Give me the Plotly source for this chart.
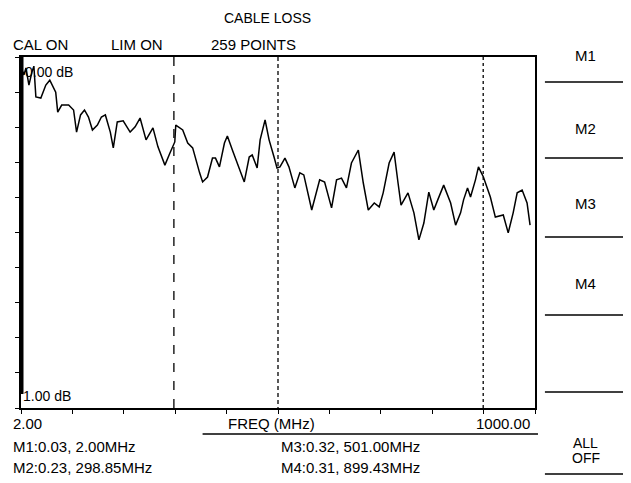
"""Cable loss sweep display."""
import plotly.graph_objects as go

# trace (MHz, dB)
freq_mhz = [2.0, 7.8, 11.6, 17.4, 23.2, 27.0, 30.9, 40.5, 50.2, 57.9, 69.4, 73.3, 81.0,
            94.5, 104.1, 109.9, 117.6, 125.3, 133.0, 140.7, 150.3, 158.1, 165.8, 175.4,
            181.2, 188.9, 200.4, 213.9, 223.6, 233.2, 244.8, 258.2, 267.9, 281.4, 291.0,
            300.6, 302.5, 316.0, 325.7, 335.3, 348.8, 354.6, 364.2, 373.8, 379.6, 387.3,
            397.0, 402.7, 412.4, 422.0, 435.5, 445.1, 450.9, 460.5, 466.3, 475.9, 483.7,
            493.3, 499.1, 504.8, 514.5, 522.2, 533.7, 543.4, 551.1, 566.5, 581.9, 591.5,
            605.0, 614.7, 624.3, 633.9, 643.6, 657.0, 666.6, 676.3, 687.9, 697.5, 705.2,
            716.8, 726.4, 734.1, 739.9, 753.4, 764.9, 774.6, 784.2, 793.8, 803.5, 811.2,
            822.7, 836.2, 845.9, 855.5, 861.3, 869.0, 874.8, 884.4, 890.2, 899.8, 913.3,
            923.0, 938.4, 948.0, 957.6, 965.4, 975.0, 984.6, 990.4]
loss_db = [0.03, 0.051, 0.031, 0.080, 0.043, 0.026, 0.114, 0.117, 0.080, 0.066, 0.100,
           0.157, 0.137, 0.137, 0.151, 0.214, 0.165, 0.151, 0.171, 0.208, 0.194, 0.171,
           0.165, 0.214, 0.259, 0.185, 0.182, 0.214, 0.199, 0.174, 0.236, 0.202, 0.256,
           0.308, 0.274, 0.242, 0.194, 0.208, 0.245, 0.259, 0.330, 0.356, 0.342, 0.288,
           0.288, 0.313, 0.245, 0.225, 0.265, 0.302, 0.356, 0.285, 0.279, 0.316, 0.236,
           0.179, 0.236, 0.285, 0.316, 0.313, 0.288, 0.313, 0.373, 0.330, 0.336, 0.436,
           0.350, 0.356, 0.430, 0.350, 0.345, 0.373, 0.302, 0.265, 0.359, 0.436, 0.416,
           0.427, 0.387, 0.302, 0.271, 0.359, 0.422, 0.387, 0.444, 0.521, 0.473, 0.385,
           0.436, 0.407, 0.365, 0.416, 0.479, 0.444, 0.407, 0.373, 0.399, 0.350, 0.313,
           0.342, 0.399, 0.456, 0.450, 0.501, 0.444, 0.387, 0.379, 0.416, 0.479]

marker_names = ["M1", "M2", "M3", "M4"]
marker_freq = [2.00, 298.85, 501.00, 899.43]
marker_loss = [0.03, 0.23, 0.32, 0.31]
marker_dash = ["solid", "dash", "4px,3px", "dot"]

f_start, f_stop = 2.0, 1000.0
db_top, db_bottom = 0.0, 1.0

FONT = "Liberation Sans"
PAGE = 8  # browser body margin
L, T, W, H = 17, 57, 518, 351  # plot box in screen pixels


def px(x):
    return (x - L) / W


def py(y):
    return (T + H - y) / H


fig = go.Figure()
fig.add_trace(go.Scatter(x=freq_mhz, y=loss_db, mode="lines",
                         line=dict(color="black", width=1.5), hoverinfo="skip"))

# marker lines
for f, d in zip(marker_freq, marker_dash):
    solid = d == "solid"
    fig.add_shape(type="line", x0=f, x1=f, y0=db_top, y1=0.96 if solid else db_bottom,
                  xref="x", yref="y",
                  line=dict(color="black", width=5 if solid else 1.3, dash=d))

ann = []


def txt(s, x, y, anchor="left", size=15):
    ann.append(dict(text=s, x=px(x), y=py(y), xref="paper", yref="paper",
                    xanchor=anchor, yanchor="middle", showarrow=False,
                    font=dict(family=FONT, size=size, color="black")))


txt("CABLE LOSS", 265, 18, "center", 14)
txt("CAL ON", 7, 45)
txt("LIM ON", 106, 45)
txt("259 POINTS", 206, 45)
txt("%.2f dB" % db_top, 19, 72, size=14)
txt("%.2f dB" % db_bottom, 17, 396, size=14)
txt("%.2f" % f_start, 7, 424)
txt("FREQ (MHz)", 224, 424)
txt("%.2f" % f_stop, 532, 424, "right")

# marker readouts, two columns
pos = [(7, 446), (7, 467), (277, 446), (277, 467)]
for name, f, v, (x, y) in zip(marker_names, marker_freq, marker_loss, pos):
    txt("%s:%.2f, %.2fMHz" % (name, v, f), x, y)

# soft keys
for name, y in zip(marker_names, [55, 128, 203, 283]):
    txt(name, 586, y, "center")
txt("ALL", 586, 443, "center", 14)
txt("OFF", 586, 458, "center", 14)
for y in [82, 158, 237, 315, 392, 474]:
    fig.add_shape(type="line", x0=px(545), x1=px(631), y0=py(y), y1=py(y),
                  xref="paper", yref="paper", line=dict(color="black", width=1.5))
fig.add_shape(type="line", x0=px(200), x1=px(538), y0=py(434), y1=py(434),
              xref="paper", yref="paper", line=dict(color="black", width=1.5))

fig.update_layout(
    width=631 - PAGE, height=483 - PAGE,
    margin=dict(l=L - PAGE, r=631 - L - W, t=T - PAGE, b=483 - T - H),
    paper_bgcolor="white", plot_bgcolor="white",
    showlegend=False,
    annotations=ann,
    xaxis=dict(range=[f_start, f_stop], showgrid=False, zeroline=False,
               showline=True, linecolor="black", linewidth=2, mirror=True,
               ticks="outside", ticklen=4, tickcolor="black", tick0=f_start,
               dtick=(f_stop - f_start) / 10, showticklabels=False),
    yaxis=dict(range=[db_bottom, db_top], showgrid=False, zeroline=False,
               showline=True, linecolor="black", linewidth=2, mirror=True,
               ticks="outside", ticklen=4, tickcolor="black", dtick=0.1,
               showticklabels=False),
)

fig.write_html("out.html")
